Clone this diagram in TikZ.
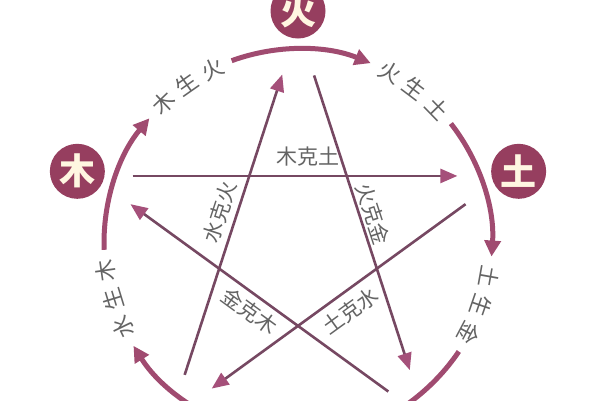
\documentclass[tikz,border=0pt]{standalone}
\usepackage{fontspec}
\newfontfamily\cjk{Noto Sans CJK SC}
\usetikzlibrary{arrows.meta,calc}
\definecolor{elemfill}{RGB}{150,62,95}
\definecolor{arccol}{RGB}{160,75,112}
\definecolor{starcol}{RGB}{118,72,98}
\definecolor{tipcol}{RGB}{165,80,122}
\definecolor{labcol}{RGB}{100,100,100}
\definecolor{elemtext}{RGB}{255,246,225}
\begin{document}
\begin{tikzpicture}[x=1pt,y=1pt,
  elem/.style={circle, fill=elemfill, minimum size=55pt, inner sep=0pt, text=elemtext, font=\cjk\bfseries\fontsize{36}{36}\selectfont},
  shengarc/.style={draw=arccol, line width=5pt, -{Triangle[width=16pt,length=16pt,color=arccol]}},
  keline/.style={draw=starcol, line width=2.6pt, -{Triangle[width=14pt,length=17pt,color=tipcol]}},
  outlab/.style={text=labcol, font=\cjk\fontsize{22}{22}\selectfont, inner sep=0pt},
  inlab/.style={text=labcol, font=\cjk\fontsize{21}{21}\selectfont, inner sep=0pt}]
\fill[white] (0,0) rectangle (600,-400);
\useasboundingbox (0,0) rectangle (600,-400);
\coordinate (C) at (298,-243);
% element circles
\node[elem] (huo) at ($(C)+(90:232)$) {火};
\node[elem] (mu) at ($(C)+(162:232)$) {木};
\node[elem] (tu) at ($(C)+(18:232)$) {土};
% sheng arcs
\foreach \c/\n in {89/a,17/b,-55/c,-127/d,161/e}{
  \coordinate (s\n) at ($(C)+(\c+21:194)$);
  \draw[shengarc] (s\n) arc[start angle=\c+21, end angle=\c-21, radius=194];
}
% sheng labels
\foreach \c/\a/\b/\d/\n in {89/火/生/土/hs, 17/土/生/金/ts, 161/木/生/火/ms, -127/水/生/木/ss}{
  \node[outlab, rotate=\c-36+8.8-90] (\n1) at ($(C)+(\c-36+8.8:194)$) {\a};
  \node[outlab, rotate=\c-36-90] (\n2) at ($(C)+(\c-36:194)$) {\b};
  \node[outlab, rotate=\c-36-8.8-90] (\n3) at ($(C)+(\c-36-8.8:194)$) {\d};
}
% pentagram vertices
\coordinate (vhuo) at ($(C)+(90:217)$);
\coordinate (vmu) at ($(C)+(162:217)$);
\coordinate (vtu) at ($(C)+(18:217)$);
\coordinate (vshui) at ($(C)+(234:217)$);
\coordinate (vjin) at ($(C)+(306:217)$);
\draw[keline, shorten <=41pt, shorten >=47pt] (vmu) -- (vtu);
\draw[keline, shorten <=48pt, shorten >=51pt] (vtu) -- (vshui);
\draw[keline, shorten <=46pt, shorten >=51pt] (vshui) -- (vhuo);
\draw[keline, shorten <=52pt, shorten >=51pt] (vhuo) -- (vjin);
\draw[keline, shorten <=46pt, shorten >=48pt] (vjin) -- (vmu);
% ke labels
\node[inlab] (k1) at (308,-157) {木克土};
\node[inlab, rotate=72] (k2) at (220,-212) {水克火};
\node[inlab, rotate=-72] (k3) at (373,-214) {火克金};
\node[inlab, rotate=-36] (k4) at (250,-311) {金克木};
\node[inlab, rotate=36] (k5) at (350,-311) {土克水};
\end{tikzpicture}
\end{document}
